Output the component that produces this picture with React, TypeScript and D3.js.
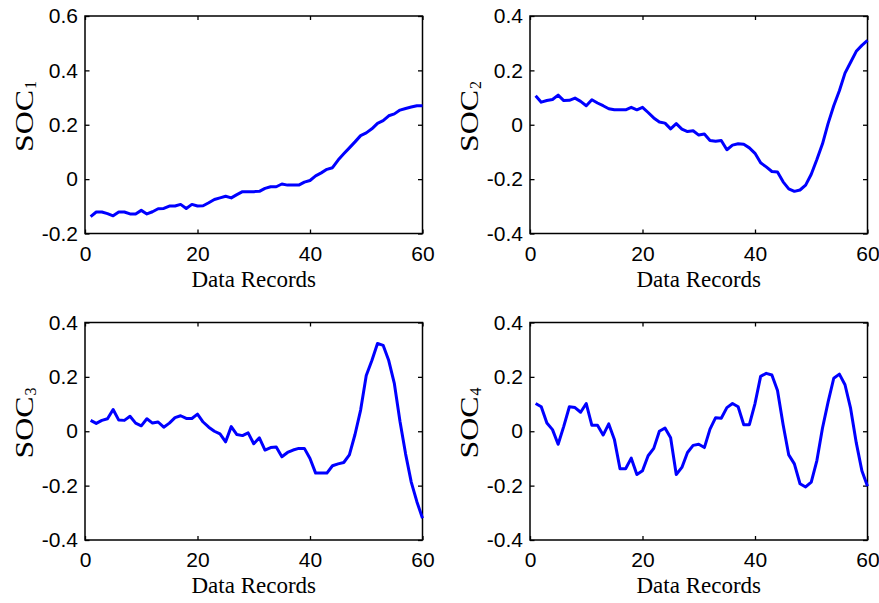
import React, { useEffect, useRef } from 'react';
import * as d3 from 'd3';

// SOC values per data record (records 1..60)
const soc1 = [
  -0.138, -0.121, -0.121, -0.127, -0.135, -0.121, -0.121, -0.128, -0.128, -0.115,
  -0.128, -0.12, -0.109, -0.108, -0.099, -0.099, -0.093, -0.108, -0.093, -0.099,
  -0.098, -0.087, -0.075, -0.069, -0.063, -0.069, -0.057, -0.046, -0.046, -0.046,
  -0.045, -0.034, -0.028, -0.028, -0.018, -0.022, -0.022, -0.022, -0.011, -0.005,
  0.012, 0.023, 0.036, 0.042, 0.07, 0.093, 0.115, 0.137, 0.16, 0.17,
  0.185, 0.205, 0.215, 0.233, 0.24, 0.254, 0.26, 0.265, 0.27, 0.27,
];
const soc2 = [
  0.107, 0.083, 0.089, 0.093, 0.109, 0.089, 0.09, 0.098, 0.086, 0.07,
  0.092, 0.08, 0.07, 0.059, 0.055, 0.055, 0.055, 0.064, 0.055, 0.064,
  0.045, 0.025, 0.01, 0.006, -0.015, 0.004, -0.016, -0.025, -0.022, -0.038,
  -0.034, -0.058, -0.061, -0.058, -0.092, -0.075, -0.07, -0.072, -0.085, -0.105,
  -0.14, -0.155, -0.172, -0.174, -0.21, -0.236, -0.245, -0.24, -0.222, -0.182,
  -0.128, -0.07, 0.005, 0.07, 0.125, 0.19, 0.23, 0.27, 0.292, 0.31,
];
const soc3 = [
  0.04, 0.029, 0.04, 0.046, 0.08, 0.041, 0.04, 0.055, 0.03, 0.02,
  0.046, 0.03, 0.034, 0.015, 0.03, 0.05, 0.057, 0.047, 0.047, 0.063,
  0.034, 0.015, 0.0, -0.01, -0.039, 0.017, -0.012, -0.016, -0.006, -0.046,
  -0.024, -0.069, -0.06, -0.058, -0.094, -0.078, -0.069, -0.063, -0.063, -0.1,
  -0.154, -0.154, -0.154, -0.127, -0.12, -0.115, -0.087, -0.012, 0.078, 0.205,
  0.26, 0.323, 0.316, 0.26, 0.175, 0.036, -0.084, -0.187, -0.259, -0.32,
];
const soc4 = [
  0.102, 0.09, 0.03, 0.006, -0.048, 0.018, 0.09, 0.087, 0.07, 0.102,
  0.022, 0.022, -0.014, 0.027, -0.03, -0.138, -0.138, -0.099, -0.159, -0.145,
  -0.09, -0.063, 0.0, 0.012, -0.024, -0.159, -0.133, -0.078, -0.052, -0.048,
  -0.06, 0.008, 0.05, 0.048, 0.087, 0.102, 0.09, 0.024, 0.024, 0.102,
  0.202, 0.213, 0.207, 0.15, 0.024, -0.087, -0.12, -0.193, -0.205, -0.187,
  -0.108, 0.012, 0.108, 0.195, 0.21, 0.171, 0.084, -0.042, -0.145, -0.202,
];

const xTicks = [0, 20, 40, 60];
const yTicksFirst = [-0.2, 0, 0.2, 0.4, 0.6];
const yTicks = [-0.4, -0.2, 0, 0.2, 0.4];
const subscripts = ['1', '2', '3', '4'];
const xTitle = 'Data Records';

const SANS = '"Liberation Sans", Arial, sans-serif';
const SERIF = '"Liberation Serif", "Times New Roman", serif';

function App() {
  const ref = useRef<SVGSVGElement>(null);

  useEffect(() => {
    const svg = d3.select(ref.current);
    svg.selectAll('*').remove();

    const W = 337.5, H = 217.5;
    const panels = [
      { values: soc1, domain: [-0.2, 0.6], ticks: yTicksFirst, x0: 85, y0: 16 },
      { values: soc2, domain: [-0.4, 0.4], ticks: yTicks, x0: 530, y0: 16 },
      { values: soc3, domain: [-0.4, 0.4], ticks: yTicks, x0: 85, y0: 322.5 },
      { values: soc4, domain: [-0.4, 0.4], ticks: yTicks, x0: 530, y0: 322.5 },
    ];

    const fmt = (d: any) => (Math.abs(d) < 1e-9 ? '0' : String(+d.toFixed(1)));

    panels.forEach((p, k) => {
      const g = svg.append('g').attr('transform', `translate(${p.x0},${p.y0})`);

      const x = d3.scaleLinear().domain([0, 60]).range([0, W]);
      const y = d3.scaleLinear().domain(p.domain).range([H, 0]);

      // axes, ticks pointing inward (matlab style)
      const styleAxis = (a: any) => {
        a.select('.domain').remove();
        a.attr('font-size', 21).attr('font-family', SANS);
        a.selectAll('line').attr('stroke', '#000').attr('stroke-width', 1.3);
        a.selectAll('text').attr('fill', '#000');
      };

      g.append('g')
        .call(d3.axisLeft(y).tickValues(p.ticks).tickSizeInner(-4.5).tickSizeOuter(0).tickPadding(7).tickFormat(fmt))
        .call(styleAxis);
      g.append('g')
        .attr('transform', `translate(${W},0)`)
        .call(d3.axisRight(y).tickValues(p.ticks).tickSizeInner(-4.5).tickSizeOuter(0).tickFormat(() => ''))
        .call(styleAxis);
      g.append('g')
        .attr('transform', `translate(0,${H})`)
        .call(d3.axisBottom(x).tickValues(xTicks).tickSizeInner(-4).tickSizeOuter(0).tickPadding(12.5).tickFormat(fmt))
        .call(styleAxis);
      g.append('g')
        .call(d3.axisTop(x).tickValues(xTicks).tickSizeInner(-4).tickSizeOuter(0).tickFormat(() => ''))
        .call(styleAxis);

      g.append('rect')
        .attr('width', W)
        .attr('height', H)
        .attr('fill', 'none')
        .attr('stroke', '#000')
        .attr('stroke-width', 1.5);

      const line = d3.line<number>()
        .x((d, i) => x(i + 1))
        .y(d => y(d));

      g.append('path')
        .datum(p.values)
        .attr('d', line)
        .attr('fill', 'none')
        .attr('stroke', '#0000ff')
        .attr('stroke-width', 3)
        .attr('stroke-linejoin', 'round');

      // x title
      g.append('text')
        .attr('x', W / 2)
        .attr('y', H + 53)
        .attr('text-anchor', 'middle')
        .attr('font-family', SERIF)
        .attr('font-size', 23)
        .attr('fill', '#000')
        .text(xTitle);

      // y title SOC_k
      const yl = g.append('g').attr('transform', `translate(-52,${H - 81.5}) rotate(-90)`);
      yl.append('text')
        .attr('x', 0)
        .attr('y', 0)
        .attr('font-family', SERIF)
        .attr('font-size', 25)
        .attr('textLength', 62)
        .attr('lengthAdjust', 'spacingAndGlyphs')
        .attr('fill', '#000')
        .text('SOC');
      yl.append('text')
        .attr('x', 63)
        .attr('y', 3)
        .attr('font-family', SERIF)
        .attr('font-size', 16)
        .attr('fill', '#000')
        .text(subscripts[k]);
    });
  }, []);

  return (
    <svg
      ref={ref}
      width={879}
      height={603}
      style={{ position: 'absolute', left: 0, top: 0, background: '#fff' }}
    />
  );
}

export default App;
